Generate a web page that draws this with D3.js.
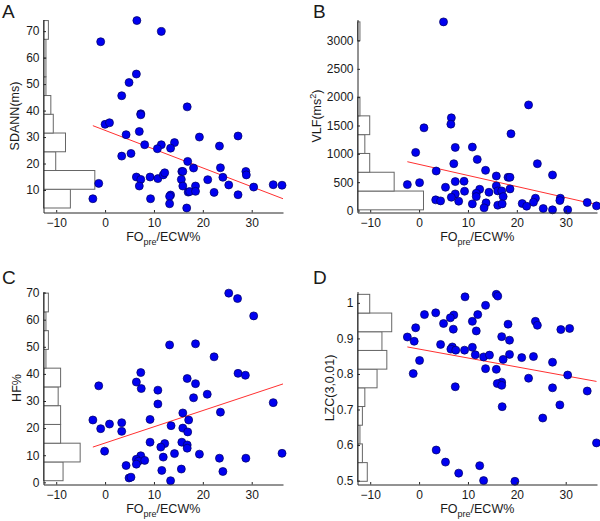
<!DOCTYPE html>
<html><head><meta charset="utf-8">
<script src="https://cdn.jsdelivr.net/npm/d3@7"></script>
<style>
body{margin:0;background:#fff}
svg{display:block}
text{font-family:"Liberation Sans",Arial,Helvetica,sans-serif;fill:#1a1a1a}
</style>
</head><body>
<svg id="chart" width="600" height="521"></svg>
<script>
// ---- data ----
const xTicks = [-10, 0, 10, 20, 30];

const foA = [6.5, 11.5, -0.9, 6.4, 4.9, 3.4, 16.8, 7.3, 7.3, 0.0, 0.9, 7.0, 4.3, 19.3, 27.2, 8.1, 14.2, 11.5, 13.4, 10.7, 23.4, 3.4, 5.3, 16.9, 18.1, 23.6, 28.8, 28.9, 6.4, 7.3, 9.2, 10.8, 11.9, 12.2, 15.7, 15.9, 15.6, 24.1, 21.0, -1.3, 15.9, 18.5, 25.3, 30.4, 34.4, 36.2, 7.0, 17.0, 17.3, 18.5, 22.3, 27.2, 13.4, 13.2, -2.5, 9.3, 13.2, 16.7];
const sdann = [74.0, 69.9, 66.0, 53.8, 50.6, 45.6, 41.4, 38.8, 38.4, 34.8, 35.4, 32.1, 30.9, 30.0, 30.4, 27.1, 27.9, 27.1, 25.8, 25.6, 26.6, 22.8, 23.8, 20.8, 18.3, 18.4, 17.0, 15.7, 14.9, 14.0, 14.9, 14.3, 15.7, 16.5, 17.0, 17.0, 14.0, 14.8, 13.9, 12.5, 11.5, 11.5, 11.9, 11.1, 12.0, 11.8, 11.5, 9.2, 9.4, 9.5, 9.1, 8.2, 8.1, 7.6, 6.7, 6.7, 4.8, 3.2];
const histA = [11, 21, 5, 9, 4, 3, 1, 1, 1, 2];
const fitA = [[-2.5, 34.3], [36.4, 6.7]];
const yTicksA = [10, 20, 30, 40, 50, 60, 70];

const foB = [5.0, 22.4, 6.6, 6.5, 1.0, 18.8, 10.9, 7.4, -0.7, 11.9, 7.1, 24.2, 13.6, 3.5, 27.3, 15.8, 18.2, 18.6, -2.4, 0.1, 7.4, 9.2, 15.8, 5.4, 12.4, 18.6, 16.1, 16.9, 9.3, 14.3, 11.7, 7.4, 6.6, 11.7, 17.2, 23.8, 28.9, 28.8, 3.4, 4.4, 8.1, 23.4, 34.4, 13.7, 10.9, 21.1, 16.1, 17.0, 36.3, 22.0, 13.3, 25.4, 27.3, 30.4];
const vlf = [3328, 1863, 1635, 1524, 1459, 1354, 1119, 1113, 1025, 902, 826, 826, 709, 697, 627, 609, 586, 586, 457, 492, 510, 516, 434, 410, 375, 381, 346, 346, 340, 322, 305, 293, 234, 246, 246, 217, 217, 176, 188, 170, 164, 146, 141, 135, 117, 123, 94, 117, 82, 76, 47, 35, 12, 12];
const histB = [27, 15, 5, 3, 5, 1, 0, 0, 0, 1];
const fitB = [[-2.4, 861], [36.3, 105]];
const yTicksB = [0, 500, 1000, 1500, 2000, 2500, 3000];

const foC = [25.3, 27.1, 30.4, 13.2, 18.5, 22.3, 7.3, 16.8, 27.2, 28.7, -1.3, 6.4, 18.5, 7.4, 10.8, 20.9, 18.1, 10.8, 34.4, 15.9, 23.6, -2.5, 9.2, 17.1, 0.9, 3.4, 13.5, -0.9, 3.4, 15.9, 16.9, 9.2, 12.2, 11.4, 15.7, 16.8, 16.8, -0.1, 14.2, 19.3, 36.2, 11.9, 7.3, 6.4, 6.8, 8.1, 6.4, 23.4, 28.8, 4.3, 15.6, 11.6, 24.1, 4.9, 5.3, 13.4];
const hf = [69.8, 67.8, 61.4, 50.7, 51.1, 46.3, 40.5, 38.3, 40.2, 39.5, 35.6, 37.0, 36.4, 34.6, 34.0, 32.5, 31.2, 28.9, 29.4, 25.6, 25.9, 23.0, 23.2, 23.0, 21.5, 22.0, 20.9, 19.8, 18.8, 20.0, 18.6, 14.8, 14.3, 13.0, 14.8, 13.8, 12.6, 11.5, 10.6, 10.4, 10.7, 9.3, 9.8, 8.5, 7.8, 8.1, 6.7, 8.9, 8.9, 6.2, 4.9, 4.4, 4.0, 1.6, 1.9, 0.6];
const histC = [8, 15, 7, 7, 6, 7, 1, 2, 1, 2];
const fitC = [[-2.5, 13.0], [36.4, 36.3]];
const yTicksC = [0, 10, 20, 30, 40, 50, 60, 70];

const foD = [15.8, 16.1, 9.4, 13.6, 1.1, 3.4, 7.1, 12.0, 6.4, 5.0, 10.9, 23.8, 24.2, 18.2, -0.7, 7.0, 11.7, 29.0, 30.8, -2.4, 16.9, -1.0, 18.5, 4.4, 6.8, 6.5, 7.5, 9.3, 10.9, 11.5, 13.2, 14.4, 18.5, 21.0, 23.4, 27.3, 17.2, 0.1, 13.6, 15.8, 22.4, -1.2, 30.4, 16.9, 16.0, 16.9, 7.4, 27.3, 34.4, 17.0, 28.8, 25.3, 36.3, 3.5, 5.4, 12.4, 8.1, 13.2, 19.6];
const lzc = [1.024, 1.019, 1.017, 0.993, 0.967, 0.972, 0.966, 0.967, 0.958, 0.942, 0.948, 0.948, 0.937, 0.940, 0.930, 0.926, 0.921, 0.925, 0.928, 0.904, 0.905, 0.892, 0.895, 0.883, 0.876, 0.870, 0.867, 0.867, 0.875, 0.854, 0.848, 0.853, 0.855, 0.846, 0.849, 0.833, 0.841, 0.838, 0.815, 0.813, 0.788, 0.801, 0.797, 0.777, 0.773, 0.768, 0.764, 0.761, 0.752, 0.708, 0.713, 0.676, 0.606, 0.586, 0.552, 0.542, 0.521, 0.500, 0.498];
const histD = [4, 2, 1, 2, 3, 8, 12, 10, 14, 5];
const fitD = [[-2.4, 0.876], [36.3, 0.779]];
const yTicksD = [0.5, 0.6, 0.7, 0.8, 0.9, 1];

// ---- layout ----
const xDomain = [-12.6, 36.4];
const histUnit = 0.5; // x-units per count
const panels = [
  {letter: "A", fo: foA, val: sdann, hist: histA, fit: fitA, yTicks: yTicksA, yDomain: [1.5, 74.4],
   ylabel: "SDANN(ms)", box: {l: 43.5, r: 283, t: 19.5, b: 212.5}, ylabX: 15, letX: 2, letY: 17.5},
  {letter: "B", fo: foB, val: vlf, hist: histB, fit: fitB, yTicks: yTicksB, yDomain: [-35, 3370],
   ylabel: "VLF", sup: true, box: {l: 357.5, r: 597, t: 19.5, b: 212.5}, ylabX: 317, letX: 313, letY: 17.5},
  {letter: "C", fo: foC, val: hf, hist: histC, fit: fitC, yTicks: yTicksC, yDomain: [-0.8, 70.4],
   ylabel: "HF%", box: {l: 43.5, r: 283, t: 291.5, b: 484.5}, ylabX: 16.5, letX: 2, letY: 284},
  {letter: "D", fo: foD, val: lzc, hist: histD, fit: fitD, yTicks: yTicksD, yDomain: [0.489, 1.032],
   ylabel: "LZC(3,0.01)", box: {l: 357.5, r: 597, t: 291.5, b: 484.5}, ylabX: 330, letX: 313, letY: 284}
];

const svg = d3.select("#chart");
const axisColor = "#262626";
const fmtMinus = d => (d < 0 ? "\u2212" + Math.abs(d) : String(d));

panels.forEach(p => {
  const b = p.box;
  const x = d3.scaleLinear().domain(xDomain).range([b.l, b.r]);
  const y = d3.scaleLinear().domain(p.yDomain).range([b.b, b.t]);
  const g = svg.append("g");

  // histogram (horizontal bars from left axis)
  const [lo, hi] = d3.extent(p.val);
  const w = (hi - lo) / p.hist.length;
  g.append("g").selectAll("rect").data(p.hist).join("rect")
    .attr("x", x(xDomain[0]))
    .attr("y", (c, i) => y(lo + (i + 1) * w))
    .attr("width", c => x(xDomain[0] + c * histUnit) - x(xDomain[0]))
    .attr("height", (c, i) => y(lo + i * w) - y(lo + (i + 1) * w))
    .attr("fill", "#fff")
    .attr("stroke", "#666")
    .attr("stroke-width", 1);

  // regression line
  g.append("line")
    .attr("x1", x(p.fit[0][0])).attr("y1", y(p.fit[0][1]))
    .attr("x2", x(p.fit[1][0])).attr("y2", y(p.fit[1][1]))
    .attr("stroke", "#ff3030").attr("stroke-width", 1);

  // points
  g.append("g").selectAll("circle").data(p.fo.map((f, i) => [f, p.val[i]])).join("circle")
    .attr("cx", d => x(d[0])).attr("cy", d => y(d[1]))
    .attr("r", 4.0)
    .attr("fill", "#0000f0")
    .attr("stroke", "#000060")
    .attr("stroke-width", 0.7);

  // axes
  const xa = g.append("g").attr("transform", `translate(0,${b.b})`)
    .call(d3.axisBottom(x).tickValues(xTicks).tickFormat(fmtMinus)
      .tickSizeInner(-2.5).tickSizeOuter(0).tickPadding(6));
  const ya = g.append("g").attr("transform", `translate(${b.l},0)`)
    .call(d3.axisLeft(y).tickValues(p.yTicks).tickFormat(d => fmtMinus(d))
      .tickSizeInner(-2.5).tickSizeOuter(0).tickPadding(4));
  [xa, ya].forEach(a => {
    a.select(".domain").attr("stroke", axisColor);
    a.selectAll(".tick line").attr("stroke", axisColor);
    a.selectAll(".tick text").attr("fill", "#1a1a1a").style("font-size", "12px")
      .style("font-family", '"Liberation Sans",Arial,sans-serif');
  });

  // x label
  const xl = g.append("text")
    .attr("x", (b.l + b.r) / 2).attr("y", b.b + 28.5)
    .attr("text-anchor", "middle").style("font-size", "12.5px");
  xl.append("tspan").text("FO");
  xl.append("tspan").attr("dy", 4).style("font-size", "9px").text("pre");
  xl.append("tspan").attr("dy", -4).text("/ECW%");

  // y label
  const yl = g.append("text")
    .attr("transform", `translate(${p.ylabX},${(b.t + b.b) / 2}) rotate(-90)`)
    .attr("text-anchor", "middle").attr("dy", "0.35em").style("font-size", "12.5px");
  if (p.sup) {
    yl.append("tspan").text("VLF(ms");
    yl.append("tspan").attr("dy", -5).style("font-size", "9px").text("2");
    yl.append("tspan").attr("dy", 5).text(")");
  } else {
    yl.text(p.ylabel);
  }

  // panel letter
  g.append("text").attr("x", p.letX).attr("y", p.letY)
    .style("font-size", "19px").text(p.letter);
});
</script>
</body></html>
